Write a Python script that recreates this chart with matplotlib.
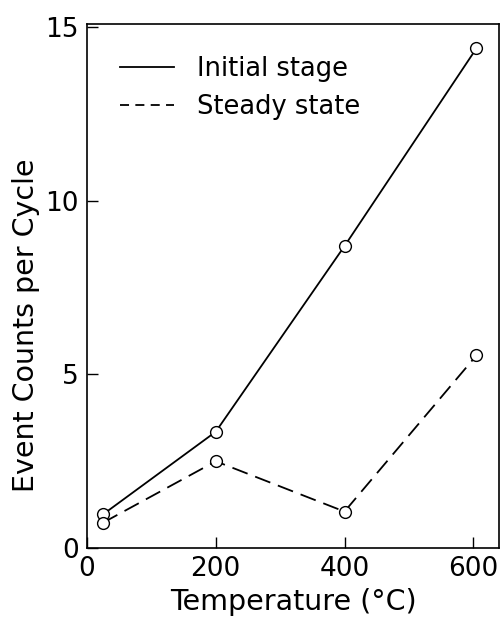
import matplotlib
matplotlib.use("Agg")
import matplotlib.pyplot as plt

temps = [25, 200, 400, 605]
initial = [0.97, 3.35, 8.7, 14.4]
steady = [0.73, 2.5, 1.05, 5.55]
xticks = [0, 200, 400, 600]
yticks = [0, 5, 10, 15]

fig = plt.figure(figsize=(5.04, 6.17), dpi=100)
ax = fig.add_axes([87/504, 1-548/617, (499-87)/504, (548-24)/617])
ax.plot(temps, initial, '-', color='black', lw=1.3, marker='o', ms=8.5,
        mfc='white', mec='black', mew=1.0, label='Initial stage')
ax.plot(temps, steady, '--', color='black', lw=1.3, dashes=(9, 4.5), marker='o', ms=8.5,
        mfc='white', mec='black', mew=1.0, label='Steady state')
ax.set_xlim(6, 640)
ax.set_ylim(0, 15.1)
ax.set_xticks(xticks)
ax.set_yticks(yticks)
ax.tick_params(direction='in', length=8, width=1, labelsize=19, top=False, right=False)
ax.tick_params(axis='x', pad=6)
ax.tick_params(axis='y', pad=6)
for s in ax.spines.values():
    s.set_linewidth(1.2)
ax.set_xlabel('Temperature (°C)', fontsize=20.5, labelpad=4)
ax.set_ylabel('Event Counts per Cycle', fontsize=20.5, labelpad=8)
ax.yaxis.set_label_coords(-0.115, 0.425)
leg = ax.legend(loc='upper left', frameon=False, fontsize=18.5, handlelength=2.1,
                handletextpad=0.9, bbox_to_anchor=(0.023, 0.983), labelspacing=0.45)
for h in leg.legend_handles:
    h.set_marker('')
leg.legend_handles[1].set_dashes((5, 3.5))
fig.savefig('out.png', dpi=100)
